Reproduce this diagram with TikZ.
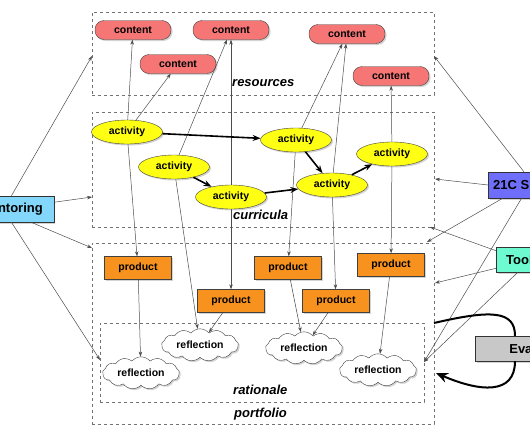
\documentclass[tikz,border=0pt]{standalone}
\usepackage{fontspec}
\setmainfont{Liberation Sans}
\usepackage{tikz}
\usetikzlibrary{positioning,shapes,shadows,arrows.meta,fit,calc}

\definecolor{contentred}{RGB}{246,118,118}
\definecolor{activityyellow}{RGB}{255,255,20}
\definecolor{productorange}{RGB}{247,146,30}
\definecolor{mentorblue}{RGB}{130,215,250}
\definecolor{skillsblue}{RGB}{110,110,250}
\definecolor{toolsgreen}{RGB}{110,250,208}
\definecolor{evalgray}{RGB}{200,200,200}

\tikzset{
  every node/.style={font=\bfseries\fontsize{10.5}{12}\selectfont},
  dropshade/.style={drop shadow={opacity=0.35,shadow xshift=1.5pt,shadow yshift=-1.5pt}},
  content/.style={rectangle, rounded corners=9pt, draw=black!75, fill=contentred, minimum width=76pt, minimum height=19pt, inner sep=0pt, dropshade},
  activity/.style={ellipse, draw=black!75, fill=activityyellow, minimum width=71pt, minimum height=24pt, inner sep=0pt, dropshade},
  product/.style={rectangle, draw=black!75, fill=productorange, minimum width=67pt, minimum height=23pt, inner sep=0pt, dropshade},
  reflection/.style={cloud, cloud puffs=13, cloud puff arc=100, aspect=2.6, draw=black!75, fill=white, minimum width=77pt, minimum height=30pt, inner sep=0pt, dropshade},
  side/.style={rectangle, draw=black!80, minimum height=26pt, inner sep=5pt, anchor=west, font=\bfseries\fontsize{13}{15}\selectfont, dropshade},
  zone/.style={draw=black!55, dashed, inner sep=0pt},
  zonelabel/.style={anchor=west, inner sep=0pt, font=\bfseries\itshape\fontsize{13}{15}\selectfont},
  link/.style={draw=black!70, line width=0.5pt, -{Stealth[length=5pt,width=3.5pt]}},
  flow/.style={line width=1.6pt, -{Stealth[length=8pt,width=6pt]}},
  evalline/.style={line width=2pt}
}

\begin{document}
\begin{tikzpicture}[x=1pt,y=-1pt]
\useasboundingbox (0,0) rectangle (530,442);
\clip (0,0) rectangle (530,442);

\node[zone, fit={(92,12) (434,95)}] (resources) {};
\node[zone, fit={(92,112) (434,227)}] (curricula) {};
\node[zone, fit={(92,243) (434,424)}] (portfolio) {};
\node[zone, fit={(100,323) (424,402)}] (rationale) {};
\node[zonelabel] (reslabel) at (232,83) {resources};
\node[zonelabel] (curlabel) at (233,215) {curricula};
\node[zonelabel] (ratlabel) at (233,390) {rationale};
\node[zonelabel] (portlabel) at (234,414) {portfolio};

\coordinate (resW) at (92,56);
\coordinate (curW) at (92,197);
\coordinate (portW) at (92,248);
\coordinate (ratW) at (100,360);
\coordinate (resE) at (434,56);
\coordinate (curE) at (435,179);
\coordinate (curSE) at (430,227);
\coordinate (portNE) at (427,242);
\coordinate (portE) at (435,283);
\coordinate (ratE) at (424,362);
\coordinate (evalout) at (434,323);
\coordinate (evalin) at (436,373);

\node[content] (c1) at (133,30) {content};
\node[content] (c2) at (231,30) {content};
\node[content] (c3) at (178,64) {content};
\node[content] (c4) at (347,34) {content};
\node[content] (c5) at (391,76) {content};

\node[activity] (a1) at (127,132) {activity};
\node[activity] (a2) at (174,167) {activity};
\node[activity] (a3) at (231,197) {activity};
\node[activity] (a4) at (296,140) {activity};
\node[activity] (a5) at (332,185) {activity};
\node[activity] (a6) at (392,154) {activity};

\node[product] (p1) at (138,268) {product};
\node[product] (p2) at (231,301) {product};
\node[product] (p3) at (288,268) {product};
\node[product] (p4) at (336,301) {product};
\node[product] (p5) at (391,265) {product};

\node[reflection] (r1) at (141,373) {reflection};
\node[reflection] (r2) at (200,345) {reflection};
\node[reflection] (r3) at (304,348) {reflection};
\node[reflection] (r4) at (378,370) {reflection};

\node[side, fill=mentorblue, anchor=east, inner xsep=11pt] (mentoring) at (54,209) {Mentoring};
\node[side, fill=skillsblue] (skills) at (488,185) {21C Skills};
\node[side, fill=toolsgreen, minimum height=25pt, inner xsep=10pt] (tools) at (496,259.5) {Tools};
\node[side, fill=evalgray, minimum height=25pt, minimum width=134pt] (eval) at (475,348.5) {Evaluation};

\foreach \from/\to in {a1/c1,a1/c3,a1/p1,a2/c2,a2/r2,a3/c2,a3/p2,a4/c4,a4/p3,
    a5/c4,a5/p4,a6/c5,a6/p5,p1/r1,p2/r2,p3/r3,p4/r3,p5/r4}
  \draw[link] (\from) -- (\to);

\foreach \from/\to in {a1/a4,a2/a3,a3/a5,a4/a5,a5/a6}
  \draw[flow] (\from) -- (\to);

\draw[link] (mentoring.north) -- (resW);
\draw[link] (mentoring.9) -- (curW);
\draw[link] (mentoring.-34) -- (portW);
\draw[link] (mentoring.south) -- (ratW);
\draw[link] (skills.north) -- (resE);
\draw[link] (skills.west) -- (curE);
\draw[link] (skills.-148) -- (portNE);
\draw[link] (skills.-100) -- (ratE);
\draw[link] (tools.162) -- (curSE);
\draw[link] (tools.198) -- (portE);
\draw[link] (tools.-112) -- (ratE);

\draw[evalline] (evalout) .. controls (490,310) and (515,310) .. ($(eval.north west)+(40,0)$);
\draw[evalline, -{Stealth[length=12pt,width=10pt]}] ($(eval.south west)+(40,0)$) .. controls (515,395) and (480,392) .. (evalin);
\end{tikzpicture}
\end{document}
